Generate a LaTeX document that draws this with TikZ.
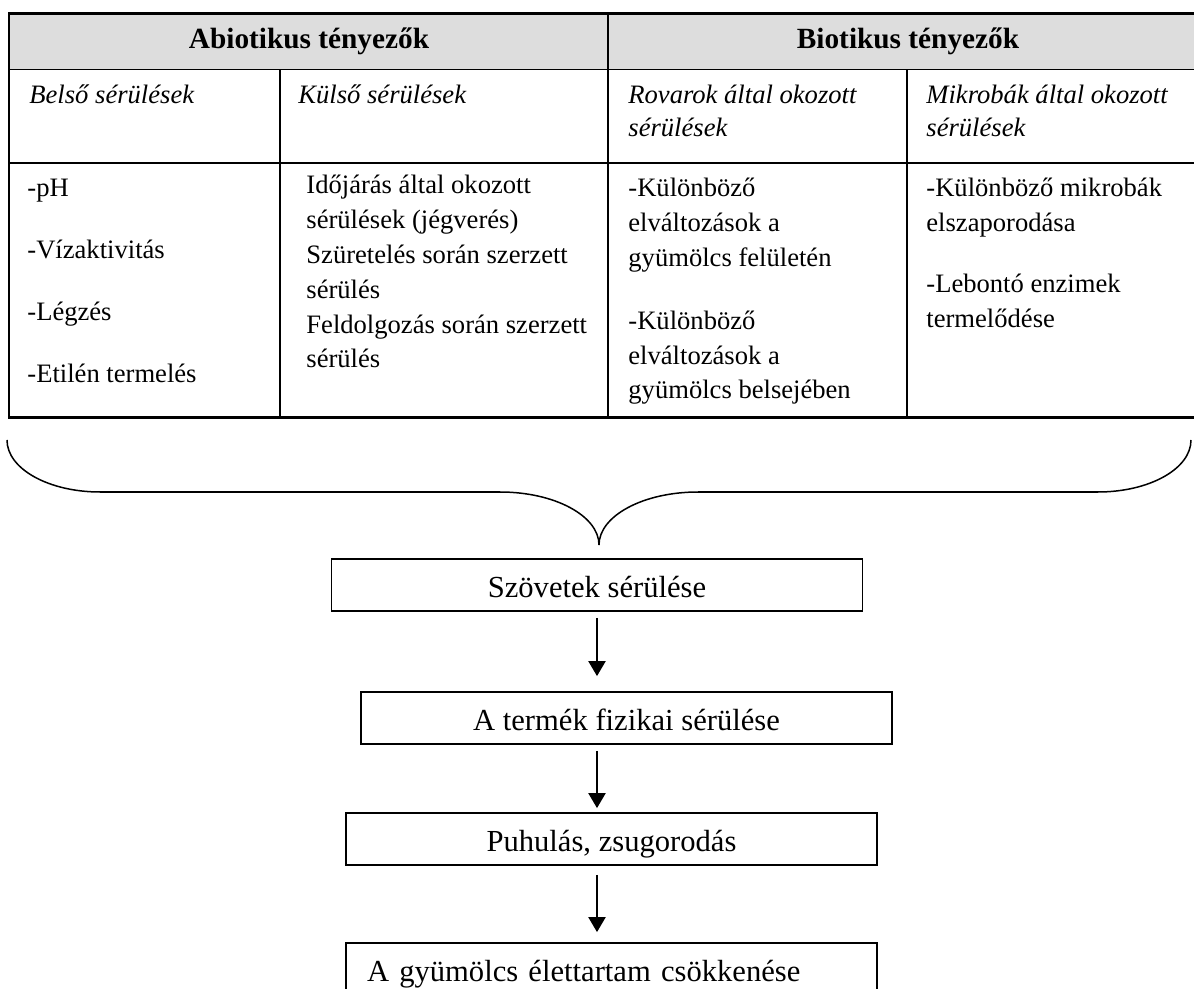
\documentclass[tikz,border=0pt]{standalone}
\usepackage{fontspec}
\setmainfont{Liberation Serif}
\usetikzlibrary{arrows.meta}
\definecolor{hdrgray}{RGB}{221,221,221}
\begin{document}
\begin{tikzpicture}[x=0.5pt,y=-0.5pt,
  outline/.style={line width=1.1pt},
  tline/.style={line width=0.9pt},
  hdrtext/.style={font=\fontsize{14.65}{17}\selectfont\bfseries, inner sep=0pt, anchor=base},
  subtext/.style={font=\fontsize{13.3}{16.5}\selectfont\itshape, inner sep=0pt, anchor=base west},
  celltext/.style={font=\fontsize{13.3}{17.4}\selectfont, inner sep=0pt, anchor=base west},
  flowbox/.style={draw, line width=0.9pt, minimum width=265.5pt, minimum height=26pt, inner sep=0pt,
     font=\fontsize{15.3}{18}\selectfont, text height=12pt, text depth=0pt},
  arr/.style={-{Triangle[width=8.5pt,length=7.5pt]}, line width=1.1pt},
  bracepath/.style={line width=0.75pt}
]
\useasboundingbox (0,0) rectangle (1194,989);
\clip (0,0) rectangle (1194,989);
% table
\fill[hdrgray] (9,13.5) rectangle (1200,69.5);
\draw[tline] (9,69.5) -- (1200,69.5);
\draw[tline] (9,163) -- (1200,163);
\draw[tline] (608,13.5) -- (608,417.5);
\draw[tline] (280,69.5) -- (280,417.5);
\draw[tline] (907,69.5) -- (907,417.5);
\draw[outline] (1200,13.5) -- (9,13.5) -- (9,417.5) -- (1200,417.5);
\node[hdrtext] (abio) at (309,49) {Abiotikus tényezők};
\node[hdrtext] (bio) at (908,49) {Biotikus tényezők};
\node[subtext] (sub1) at (29,104) {Belső sérülések};
\node[subtext] (sub2) at (298,104) {Külső sérülések};
\node[subtext] (sub3) at (628,104) {\begin{tabular}[t]{@{}l@{}}Rovarok által okozott\\ sérülések\end{tabular}};
\node[subtext] (sub4) at (926,104) {\begin{tabular}[t]{@{}l@{}}Mikrobák által okozott\\ sérülések\end{tabular}};
\node[celltext] (cell1) at (27,197) {\begin{tabular}[t]{@{}l@{}}-pH\\[13.5pt] -Vízaktivitás\\[13.5pt] -Légzés\\[13.5pt] -Etilén termelés\end{tabular}};
\node[celltext] (cell2) at (306,194) {\begin{tabular}[t]{@{}l@{}}Időjárás által okozott\\ sérülések (jégverés)\\ Szüretelés során szerzett\\ sérülés\\ Feldolgozás során szerzett\\ sérülés\end{tabular}};
\node[celltext] (cell3) at (628,197) {\begin{tabular}[t]{@{}l@{}}-Különböző\\ elváltozások a\\ gyümölcs felületén\\[14pt] -Különböző\\ elváltozások a\\ gyümölcs belsejében\end{tabular}};
\node[celltext] (cell4) at (926,197) {\begin{tabular}[t]{@{}l@{}}-Különböző mikrobák\\ elszaporodása\\[13pt] -Lebontó enzimek\\ termelődése\end{tabular}};
% brace
\coordinate (tip) at (599,545);
\draw[bracepath] (7,440) .. controls (7,469) and (49,492) .. (100,492) -- (500,492)
  .. controls (555,492) and (599,516) .. (tip)
  .. controls (599,516) and (643,492) .. (698,492) -- (1098,492)
  .. controls (1149,492) and (1191,469) .. (1191,440);
% flow
\node[flowbox] (b1) at (597,585) {Szövetek sérülése};
\node[flowbox] (b2) at (626.5,718) {A termék fizikai sérülése};
\node[flowbox] (b3) at (611.5,839) {Puhulás, zsugorodás};
\node[flowbox, align=left, text width=244.5pt, inner xsep=10.5pt] (b4) at (611.5,969) {A gyümölcs élettartam csökkenése};
\draw[arr, shorten <=3pt, shorten >=7.5pt] (b1.south) -- (b1.south |- b2.north);
\draw[arr, shorten <=3pt, shorten >=2pt] (b1.south |- b2.south) -- (b1.south |- b3.north);
\draw[arr, shorten <=4.5pt, shorten >=5pt] (b1.south |- b3.south) -- (b1.south |- b4.north);
\end{tikzpicture}
\end{document}
